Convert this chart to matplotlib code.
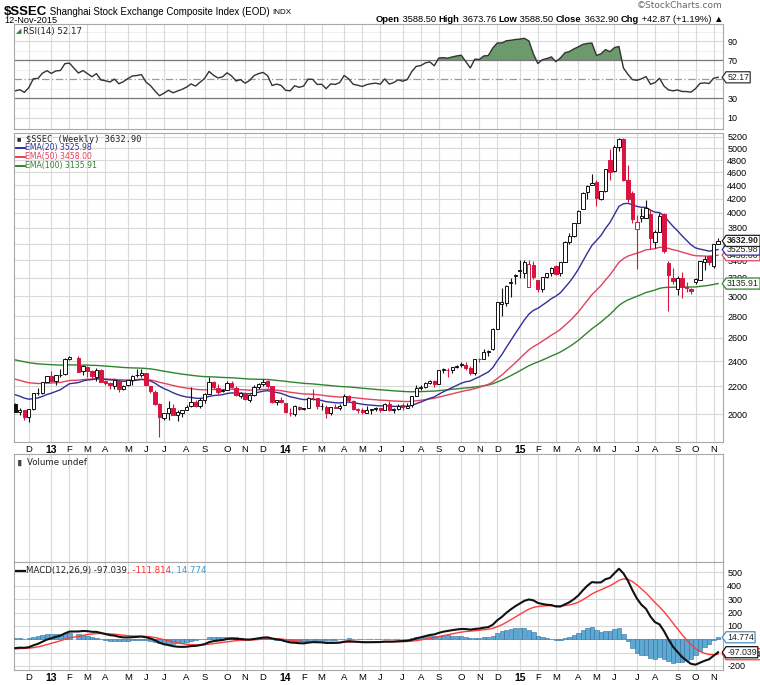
import numpy as np
import pandas as pd
import matplotlib
matplotlib.use('Agg')
import matplotlib.pyplot as plt
from matplotlib.path import Path
from matplotlib.ticker import FixedLocator, FixedFormatter, NullLocator

# ---------------- data (weekly, from week of 12-Nov-2012; None = no-trading week) -------------
week_start = '2012-11-12'
n_weeks = 157

opens = [2069, 2012, 2025, 1980, 2034, 2150, 2153, 2234, 2278, 2240, 2285, 2292, 2420, None,
         2430, 2320, 2350, 2318, 2272, 2330, 2238, 2222, 2200, 2242, 2180, 2208, 2246, 2285, 2286,
         2300, 2200, 2160, 2070, 1975, 2005, 2040, 1990, 2010, 2030, 2055, 2085, 2057, 2100, 2145,
         2235, 2190, 2165, 2175, 2228, 2190, 2130, 2150, 2100, 2135, 2195, 2220, 2240, 2200, 2085,
         2100, 2080, 2010, 2000, 2050, 2035, 2045, 2115, 2110, 2055, 2050, 2005, 2050, 2040, 2060,
         2130, 2095, 2035, 2025, 2010, 2025, 2035, 2039, 2030, 2070, 2025, 2036, 2060, 2045, 2060,
         2130, 2185, 2195, 2225, 2240, 2218, 2325, 2330, 2325, 2350, 2365, 2370, 2340, 2300, 2420,
         2420, 2478, 2505, 2685, 2925, 2930, 3140, 3220, 3270, 3250, 3100, 3340, 3180, 3080, 3205,
         3250, 3330, 3250, 3375, 3620, 3700, 3870, 4050, 4300, 4400, 4450, 4200, 4310, 4800, 4620,
         5030, 5170, 4480, 4290, 3790, 3930, 3935, 3980, 3620, 3750, 3980, 3370, 3200, 3080, 3200,
         3100, 3080, 3150, 3180, 3380, 3450, 3337, 3588.50]
highs = [2076, 2040, 2030, 2034, 2151, 2184, 2236, 2277, 2318, 2290, 2332, 2422, 2444, None,
         2444, 2366, 2362, 2330, 2340, 2338, 2250, 2232, 2252, 2250, 2210, 2252, 2285, 2335, 2334,
         2305, 2200, 2170, 2075, 2010, 2092, 2070, 2030, 2030, 2060, 2198, 2098, 2110, 2150, 2270,
         2244, 2220, 2180, 2240, 2240, 2200, 2160, 2160, 2140, 2210, 2224, 2260, 2245, 2205, 2100,
         2120, 2080, 2040, 2060, 2055, 2045, 2120, 2177, 2115, 2075, 2060, 2050, 2070, 2070, 2140,
         2132, 2100, 2045, 2040, 2055, 2035, 2050, 2045, 2075, 2090, 2040, 2070, 2075, 2075, 2130,
         2210, 2210, 2230, 2248, 2245, 2330, 2345, 2345, 2350, 2365, 2392, 2390, 2360, 2420, 2430,
         2500, 2490, 2690, 2940, 3091, 3120, 3200, 3240, 3400, 3400, 3406, 3390, 3180, 3210, 3250,
         3320, 3340, 3375, 3633, 3735, 3864, 4040, 4300, 4400, 4572, 4488, 4320, 4658, 4986, 5050,
         5178, 5176, 4720, 4320, 3975, 4070, 4184, 4050, 3770, 3994, 4006, 3390, 3312, 3218, 3260,
         3150, 3090, 3200, 3394, 3450, 3460, 3600, 3673.76]
lows = [2012, 1990, 1959, 1949, 2026, 2134, 2140, 2230, 2235, 2210, 2275, 2286, 2407, None,
        2311, 2284, 2273, 2260, 2240, 2230, 2210, 2180, 2180, 2160, 2170, 2205, 2210, 2275, 2270,
        2200, 2150, 2065, 1849, 1960, 1960, 1990, 1950, 1980, 2025, 2050, 2047, 2040, 2080, 2140,
        2180, 2140, 2160, 2175, 2190, 2130, 2115, 2100, 2085, 2130, 2180, 2205, 2190, 2080, 2060,
        2080, 2010, 1985, 1984, 2030, 2030, 2045, 2100, 2035, 2030, 1975, 1990, 2040, 2030, 2060,
        2085, 2025, 2010, 2000, 2010, 2000, 2020, 2015, 2030, 2020, 2010, 2030, 2030, 2040, 2050,
        2130, 2170, 2190, 2215, 2195, 2215, 2300, 2270, 2300, 2340, 2355, 2330, 2290, 2290, 2395,
        2415, 2445, 2490, 2680, 2800, 2900, 2990, 3130, 3200, 3200, 3096, 3190, 3050, 3050, 3200,
        3220, 3225, 3220, 3375, 3600, 3680, 3860, 4050, 4200, 4400, 4100, 4180, 4300, 4480, 4600,
        4950, 4470, 4150, 3860, 3300, 3880, 3935, 3537, 3549, 3740, 3490, 2850, 3130, 3011, 2983,
        3050, 3030, 3130, 3170, 3290, 3340, 3310, 3588.50]
closes = [2015, 2027, 1980, 2033, 2150, 2153, 2233, 2277, 2243, 2285, 2291, 2419, 2432, None,
          2314, 2360, 2319, 2278, 2328, 2237, 2225, 2207, 2245, 2178, 2206, 2247, 2283, 2289, 2301,
          2211, 2162, 2073, 1979, 2007, 2039, 1993, 2011, 2029, 2052, 2086, 2057, 2098, 2140, 2236,
          2192, 2160, 2175, 2228, 2194, 2133, 2150, 2106, 2136, 2196, 2221, 2237, 2205, 2085, 2101,
          2083, 2013, 2005, 2054, 2033, 2045, 2116, 2114, 2056, 2058, 2004, 2048, 2042, 2059, 2131,
          2098, 2037, 2026, 2011, 2027, 2035, 2039, 2030, 2071, 2025, 2037, 2059, 2047, 2059, 2127,
          2185, 2194, 2227, 2241, 2217, 2326, 2332, 2329, 2348, 2364, 2375, 2341, 2302, 2420, 2418,
          2479, 2487, 2683, 2938, 2938, 3109, 3158, 3235, 3285, 3377, 3352, 3210, 3076, 3204, 3247,
          3310, 3241, 3373, 3617, 3691, 3864, 4034, 4287, 4394, 4442, 4206, 4309, 4658, 4612, 5023,
          5166, 4478, 4193, 3913, 3878, 3957, 4071, 3664, 3744, 3965, 3508, 3232, 3160, 3200, 3098,
          3092, 3053, 3183, 3391, 3412, 3383, 3590, 3632.90]

ema_seed = {20: 2137.0, 50: 2255.0, 100: 2410.0}
macd_seed = (2050.0, 2116.0, -72.0)      # EMA12, EMA26, signal
rsi_seed = (19.0, 31.0)                  # avg gain, avg loss

# texts shown by the reference
last_close = '3632.90'
ema_labels = {20: '3525.98', 50: '3458.00', 100: '3135.91'}
rsi_last = '52.17'
macd_last, signal_last, hist_last = '-97.039', '-111.814', '14.774'
price_ticks = list(range(2000, 5201, 200))
rsi_ticks = [10, 30, 50, 70, 90]
macd_ticks = [-200, -100, 0, 100, 200, 300, 400, 500]
# tick labels that sit fully behind a value tag in the reference
hidden_price = {3600}
hidden_rsi = {50}
hidden_macd = {0, -100}

# ---------------- computations ----------------
o = np.array([np.nan if v is None else v for v in opens], float)
h = np.array([np.nan if v is None else v for v in highs], float)
l = np.array([np.nan if v is None else v for v in lows], float)
c = np.array([np.nan if v is None else v for v in closes], float)
idx = np.arange(n_weeks)
valid = ~np.isnan(c)
vi = idx[valid]
cv = c[valid]

def ema(series, period, seed):
    a = 2.0 / (period + 1)
    out = np.empty_like(series)
    out[0] = seed
    for i in range(1, len(series)):
        out[i] = out[i - 1] + a * (series[i] - out[i - 1])
    return out

emas = {p: ema(cv, p, s) for p, s in ema_seed.items()}
e12 = ema(cv, 12, macd_seed[0])
e26 = ema(cv, 26, macd_seed[1])
macd = e12 - e26
sig = ema(macd, 9, macd_seed[2])
hist = macd - sig

ag, al = rsi_seed
rsi = np.empty_like(cv)
rsi[0] = 100 - 100 / (1 + ag / al)
for i in range(1, len(cv)):
    ch = cv[i] - cv[i - 1]
    ag = (ag * 13 + max(ch, 0)) / 14
    al = (al * 13 + max(-ch, 0)) / 14
    rsi[i] = 100 - 100 / (1 + ag / al)

dates = pd.date_range(week_start, periods=n_weeks, freq='7D')
mpos, mlab, mbold = [], [], []
for i in range(1, n_weeks):
    if dates[i].month != dates[i - 1].month:
        mpos.append(i)
        if dates[i].month == 1:
            mlab.append(dates[i].strftime('%y')); mbold.append(True)
        else:
            mlab.append('JFMAMJJASOND'[dates[i].month - 1]); mbold.append(False)

def labels_for(ticks, hidden):
    return ['' if t in hidden else str(t) for t in ticks]

# ---------------- figure ----------------
W, H = 760, 685
fig = plt.figure(figsize=(W / 100, H / 100), dpi=100)
L, R = 14, 723
def rect(top, bottom):
    return [L / W, 1 - bottom / H, (R - L) / W, (bottom - top) / H]

ax_rsi = fig.add_axes(rect(24, 129))
ax_p = fig.add_axes(rect(133, 442))
ax_v = fig.add_axes(rect(454, 562))
ax_m = fig.add_axes(rect(562, 670))

GRID = '#d9d9d9'
RED = '#d81440'

for ax in (ax_rsi, ax_p, ax_v, ax_m):
    ax.set_xlim(-0.3, n_weeks + 0.1)
    ax.set_facecolor('white')
    for s in ax.spines.values():
        s.set_color('#a8a8a8'); s.set_linewidth(0.8)
    ax.xaxis.set_major_locator(FixedLocator(mpos))
    ax.grid(True, axis='x', color=GRID, lw=0.8)
    ax.tick_params(axis='both', length=0, labelleft=False, left=False,
                   right=False, labelright=True, labelbottom=False, pad=3)
    ax.set_axisbelow(True)

for ax in (ax_p, ax_m):
    ax.set_xticklabels(mlab)
    ax.tick_params(axis='x', labelbottom=True, pad=2)
    for t, b in zip(ax.get_xticklabels(), mbold):
        t.set_family('Liberation Sans'); t.set_size(6.8)
        if b:
            t.set_fontweight('bold'); t.set_size(7.5)

def tag_box(x0, y0, width, height, mutation_size):
    pad = mutation_size * 0.12
    x0, y0 = x0 - pad, y0 - pad
    x1, y1 = x0 + width + 2 * pad, y0 + height + 2 * pad
    tip = (y1 - y0) / 2
    verts = [(x0, y0), (x1, y0), (x1, y1), (x0, y1), (x0 - tip * 0.7, (y0 + y1) / 2), (x0, y0)]
    return Path(verts, closed=True)

def tag(ax, y, text, ec, bold=False):
    ax.annotate(text, xy=(1.0, y), xycoords=('axes fraction', 'data'),
                xytext=(3.0, 0), textcoords='offset points', ha='left', va='center',
                fontsize=6.3, family='Liberation Sans', color='#222222',
                fontweight='bold' if bold else 'normal',
                bbox=dict(boxstyle=tag_box, fc='white', ec=ec, lw=0.9),
                annotation_clip=False, zorder=20)

# ---- RSI panel
ax_rsi.set_ylim(-2, 108)
ax_rsi.yaxis.set_major_locator(FixedLocator(rsi_ticks))
ax_rsi.yaxis.set_major_formatter(FixedFormatter(labels_for(rsi_ticks, hidden_rsi)))
for lv in (10, 90):
    ax_rsi.axhline(lv, color=GRID, lw=0.8, zorder=0)
for lv in (20, 40, 60, 80, 100):
    ax_rsi.axhline(lv, color='#eeeeee', lw=0.6, zorder=0)
ax_rsi.axhline(70, color='#777777', lw=0.9)
ax_rsi.axhline(30, color='#777777', lw=0.9)
ax_rsi.axhline(50, color='#999999', lw=0.9, ls=(0, (6, 2, 1, 2)))
ax_rsi.fill_between(vi, 70, rsi, where=rsi >= 70, interpolate=True, color='#6c9a6c', lw=0)
ax_rsi.plot(vi, rsi, color='#333333', lw=1.0)
tag(ax_rsi, float(rsi_last), rsi_last, '#333333')
ax_rsi.text(0.012, 0.93, 'RSI(14) ' + rsi_last, transform=ax_rsi.transAxes, ha='left', va='center',
            fontsize=6.2, family='DejaVu Sans', color='#222222')
ax_rsi.text(0.003, 0.93, '\u25e2', transform=ax_rsi.transAxes, ha='left', va='center',
            fontsize=5, color='#2e7d32')

# ---- price panel
ax_p.set_yscale('log')
ax_p.set_ylim(1816, 5270)
ax_p.yaxis.set_major_locator(FixedLocator(price_ticks))
ax_p.yaxis.set_major_formatter(FixedFormatter(labels_for(price_ticks, hidden_price)))
ax_p.yaxis.set_minor_locator(NullLocator())
ax_p.grid(True, axis='y', color=GRID, lw=0.8)

pc = pd.Series(c).ffill().shift(1).to_numpy()
for i in vi:
    up_day = not (c[i] < pc[i])
    col = '#111111' if up_day else RED
    ax_p.vlines(i, l[i], h[i], color=col, lw=0.8, zorder=4)
    lo_, hi_ = min(o[i], c[i]), max(o[i], c[i])
    hollow = c[i] >= o[i]
    ax_p.bar(i, max(hi_ - lo_, 0.5), bottom=lo_, width=0.72,
             color='white' if hollow else col, edgecolor=col, lw=0.7, zorder=5)

ema_cols = {20: '#30309a', 50: '#e2425c', 100: '#2f852f'}
for p in (100, 50, 20):
    ax_p.plot(vi, emas[p], color=ema_cols[p], lw=1.0, zorder=3)

tag(ax_p, float(ema_labels[100]), ema_labels[100], ema_cols[100])
tag(ax_p, float(ema_labels[50]), ema_labels[50], ema_cols[50])
tag(ax_p, float(ema_labels[20]), ema_labels[20], ema_cols[20])
tag(ax_p, float(last_close), last_close, '#222222', bold=True)

ax_p.text(0.017, 0.980, '$SSEC (Weekly) ' + last_close, transform=ax_p.transAxes, ha='left',
          va='center', fontsize=6.2, family='DejaVu Sans Mono', color='#222222')
ax_p.text(0.003, 0.980, '\u25ae\u25ae', transform=ax_p.transAxes, ha='left', va='center',
          fontsize=3.5, color='#222222')
for k, p in enumerate((20, 50, 100)):
    yy = 0.952 - k * 0.029
    ax_p.plot([0.003, 0.015], [yy, yy], transform=ax_p.transAxes, color=ema_cols[p], lw=1.4)
    ax_p.text(0.016, yy, 'EMA(%d) %s' % (p, ema_labels[p]), transform=ax_p.transAxes,
              ha='left', va='center', fontsize=5.6, family='DejaVu Sans', color=ema_cols[p])

# ---- volume panel
ax_v.set_ylim(0, 1)
ax_v.set_yticks([])
ax_v.text(0.018, 0.92, 'Volume undef', transform=ax_v.transAxes, ha='left', va='center',
          fontsize=6.2, family='DejaVu Sans', color='#222222')
ax_v.text(0.003, 0.92, '\u2590\u258c', transform=ax_v.transAxes, ha='left', va='center',
          fontsize=4, color='#444444')

# ---- MACD panel
ax_m.set_ylim(-230, 578)
ax_m.yaxis.set_major_locator(FixedLocator(macd_ticks))
ax_m.yaxis.set_major_formatter(FixedFormatter(labels_for(macd_ticks, hidden_macd)))
ax_m.grid(True, axis='y', color=GRID, lw=0.8)
ax_m.bar(vi, hist, width=0.95, bottom=0, color='#5ea8d4', edgecolor='#2f6f9e', lw=0.4, zorder=3)
ax_m.plot(vi, sig, color='#ff3b3b', lw=1.0, zorder=4)
ax_m.plot(vi, macd, color='#111111', lw=1.5, zorder=5)
tag(ax_m, float(signal_last), signal_last, '#ff3b3b')
tag(ax_m, float(macd_last), macd_last, '#111111')
tag(ax_m, float(hist_last), hist_last, '#4a90c8')

ax_m.plot([0.003, 0.015], [0.92, 0.92], transform=ax_m.transAxes, color='#111111', lw=1.6)
fig.canvas.draw()
rend = fig.canvas.get_renderer()
x = 0.017
for txt, col in (('MACD(12,26,9) ' + macd_last, '#222222'), (', ' + signal_last, '#ff2a2a'),
                 (', ' + hist_last, '#3a9ad0')):
    t = ax_m.text(x, 0.92, txt, transform=ax_m.transAxes, ha='left', va='center',
                  fontsize=6.2, family='DejaVu Sans', color=col)
    bb = t.get_window_extent(rend)
    x = ax_m.transAxes.inverted().transform((bb.x1, bb.y0))[0]

for ax in (ax_rsi, ax_p, ax_m):
    for t in ax.get_yticklabels():
        t.set_family('Liberation Sans'); t.set_size(6.5)

# ---- header
def seq_text(x_px, y_px, parts):
    for txt, kw in parts:
        t = fig.text(x_px / W, 1 - y_px / H, txt, va='center', ha='left', **kw)
        x_px = t.get_window_extent(rend).x1

seq_text(4, 12, [('$SSEC', dict(fontsize=9.5, fontweight='bold', family='Liberation Sans')),
                 (' Shanghai Stock Exchange Composite Index (EOD) ', dict(fontsize=7, family='Liberation Sans')),
                 ('INDX', dict(fontsize=5.8, family='Liberation Sans'))])
fig.text(4 / W, 1 - 20.5 / H, '12-Nov-2015', fontsize=6.6, family='Liberation Sans', va='center',
         ha='left')
fig.text(723 / W, 1 - 6 / H, '\u00a9StockCharts.com', fontsize=6.5, family='DejaVu Sans',
         color='#666666', va='center', ha='right')
parts = []
for txt, bold in (('Open', True), (' 3588.50 ', False), ('High', True), (' 3673.76 ', False),
                  ('Low', True), (' 3588.50 ', False), ('Close', True), (' 3632.90 ', False),
                  ('Chg', True), (' +42.87 (+1.19%) \u25b2', False)):
    parts.append((txt, dict(fontsize=6.75, family='Liberation Sans',
                            fontweight='bold' if bold else 'normal')))
seq_text(376, 19, parts)

fig.savefig('out.png', dpi=100)
